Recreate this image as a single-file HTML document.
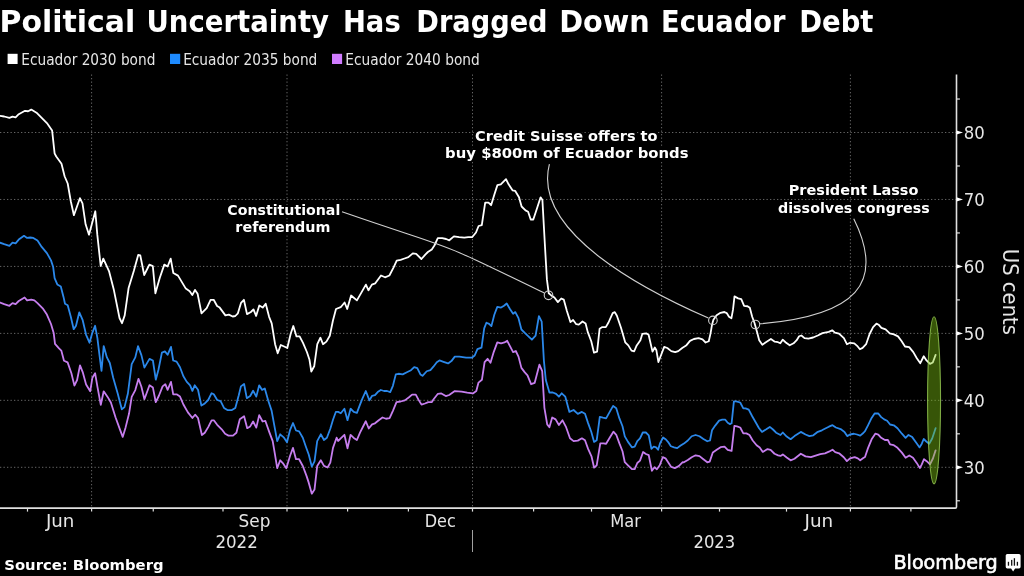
<!DOCTYPE html>
<html><head><meta charset="utf-8"><title>Political Uncertainty Has Dragged Down Ecuador Debt</title><style>
html,body{margin:0;padding:0;background:#000;}
body{width:1024px;height:576px;overflow:hidden;position:relative;}
svg{position:absolute;left:0;top:0;display:block;}
.g{stroke:#666;stroke-width:1;stroke-dasharray:1.3 2.2;}
.s{fill:none;stroke-width:1.8;stroke-linejoin:round;stroke-linecap:round;}
.c{fill:none;stroke:#d0d0d0;stroke-width:1.1;}
.ax{stroke:#e0e0e0;stroke-width:1.6;}
.tk{stroke:#e0e0e0;stroke-width:1.2;}
</style></head><body>
<svg width="1024" height="576" viewBox="0 0 1024 576" font-family="'DejaVu Sans', sans-serif">
<line x1="0" y1="467.30" x2="956.5" y2="467.30" class="g"/>
<line x1="0" y1="400.34" x2="956.5" y2="400.34" class="g"/>
<line x1="0" y1="333.38" x2="956.5" y2="333.38" class="g"/>
<line x1="0" y1="266.42" x2="956.5" y2="266.42" class="g"/>
<line x1="0" y1="199.46" x2="956.5" y2="199.46" class="g"/>
<line x1="0" y1="132.50" x2="956.5" y2="132.50" class="g"/>
<line x1="91.6" y1="74.5" x2="91.6" y2="508.1" class="g"/>
<line x1="287" y1="74.5" x2="287" y2="508.1" class="g"/>
<line x1="472.5" y1="74.5" x2="472.5" y2="508.1" class="g"/>
<line x1="661.6" y1="74.5" x2="661.6" y2="508.1" class="g"/>
<line x1="850.4" y1="74.5" x2="850.4" y2="508.1" class="g"/>
<polyline points="0,302.5 4.2,304.2 9.4,305.8 12.5,303.1 15.6,304.2 18.75,301 24.6,297.5 27.1,300.4 31.25,299.6 34.4,300.4 37.5,303.1 42.7,308.3 46.9,314.6 51,324 53.75,333.3 55,343.9 59,348.4 61.3,350.6 64,360.8 67.6,362.4 71.4,373.2 74.4,385.6 77.1,380 80,365.3 82.7,372.1 86.1,384.5 90.2,391.3 92.4,377.7 95.1,373.2 97.4,386.7 100.8,404.8 103.7,391.3 107.6,396.9 110.9,402.5 115.5,417.2 120,429.6 122.7,436.9 125.6,427.4 129,413.8 131.7,396.9 135.3,390.1 138.5,378.8 141.4,386.7 144.4,399.2 149.5,385.3 152.9,387.6 155.8,402.2 159,395.5 162.6,386.4 165.3,384.2 167.6,389.8 171,381.9 173.2,394.3 176.6,394.3 180,396.6 183.4,404.5 187.9,412.4 192.4,418 195.1,414.7 198,418 201.9,435 204.8,432.7 208.2,427.1 211.6,420.3 213.8,420.3 217.2,424.8 221.7,429.3 225.1,433.8 228.5,435.6 233,435.6 236.4,432.7 239.8,419.2 244.1,416.3 247.2,428.2 250.2,426.4 253.1,421.5 256.3,427.6 259.2,415.1 262.6,421.5 265.3,420.8 269.3,432.1 272.7,441.1 275,454.7 277.2,468.2 280.2,460.3 283.3,463.7 286.3,468.2 290.1,455.8 293,447.9 296,459.2 299.1,459.2 302.8,466 306.6,476.1 308.8,482.9 311.8,493.7 314.5,489.6 317.2,465.9 320.8,460.3 324,465.9 327.6,467.5 330.3,462.6 333,447.9 336.6,437.7 338.1,441 341.25,437.9 344.4,434.8 347.5,448.3 350.6,434.8 353.75,437.9 356.9,440 360,432.7 363.1,426.5 365.8,421.25 368.75,428.5 372.1,424.4 375,423.3 378.75,420.2 382.5,417.5 386,418.75 389.6,418.1 392.9,410.8 396.5,402.1 400.6,401.5 404.8,400.4 409,397.3 412.1,394.6 415.8,394.6 418.3,399.4 421.5,404.6 425,403.5 428.3,402.1 431.9,402.1 433.4,399.5 437.9,393.8 441.3,393.4 445.8,396.1 449.2,395 454.8,391.1 461.6,391.6 467.2,392.7 472.9,393.4 476.3,391.1 478.5,382.6 481.9,379.8 484.6,362.2 487.6,358.8 490.5,362.7 493.7,352.1 497.3,342.4 501.1,343.3 504.5,342.4 507.2,340.8 510.1,346.4 513.1,352.1 515.8,351 518.5,356.6 521.4,367.9 524.8,372.4 527.5,375.3 531.1,384.2 534.7,382.8 539.4,364.7 542.2,371.1 544.4,407.8 547.2,424.4 549.4,427.2 552.2,417.5 555.6,419.4 558.9,425 562.5,420.3 566.1,427.2 570,438.3 573.6,441.1 577.8,440.6 581.9,438.3 585,440.3 588.1,448.9 591.6,456.7 594.1,467.7 596.7,465.3 600.3,443.4 603.4,443.4 606.1,443.75 610,437.2 613.4,431.7 616.25,434.8 619.4,443.4 622.5,451.25 624.8,462.2 628,465.3 631.9,469.2 634.7,469.2 637.3,463 640,460.6 643.1,452 645.9,454 648.75,455.2 651.9,470.8 654.5,467.2 656.9,469.2 659.7,465.3 662.8,457.2 665.5,458.3 668.6,463 671.25,466.9 674.8,468.1 678.75,466.1 682.7,462.2 683.9,462.3 687.8,460 691.7,457.2 695.6,455.3 699.5,456.1 703.4,459.2 707.3,462.3 709.7,461.6 712.8,452.5 716.7,449.8 720.6,447.2 724.5,446.7 727.7,449.8 731.6,450.9 734.4,425.9 737,426.4 740.2,427.5 743.3,433.4 746.4,433.4 749.5,435 752.7,440.5 756.6,445.2 759.7,447.5 762.8,451.9 767.5,449.1 770.6,449.8 774.5,453.75 778.1,455.3 780.5,455.9 782.8,454.4 786.7,457.5 790.6,460.3 794.5,458.75 800.8,453.75 805.5,456.4 810.9,457.2 815.6,455.6 820.3,454.1 825,453.3 828.9,451.7 832.5,449.7 835.2,452.2 839.1,453.3 843.75,457.2 846.9,461.1 850,458.4 854.7,457.2 857.8,458.4 860.2,460.3 863.3,458 865,457 868,448.1 871.6,439.3 875.3,433.7 878.3,434.6 881.2,437.8 884.9,440 887.9,440 890.1,444.4 893.8,445.2 897.5,447.8 901.9,452.6 905.6,457.7 909.3,455.5 913,457.7 916.7,462.9 919.9,468.1 921.8,464.4 924,459.2 927,461.4 930,464.4 932.9,458.5 935.6,450.4" class="s" stroke="#c67eee"/>
<polyline points="0,242.7 4.2,244.2 9.4,245.8 12.5,242.7 15.6,243.3 18.75,239.6 24,235.8 27.1,237.9 30.2,237.5 33.3,237.9 37.5,240.6 41.7,246.9 46.9,253.1 51,260.4 53.1,266.7 54.6,278.1 57.3,284.4 60.8,286.5 63.5,296.9 65,303.75 67.7,305.2 70.8,316.7 73.7,329.2 76,325.8 79.3,312.3 82.7,320.2 86.1,334.8 89.5,342.7 92.4,332.6 95.1,325.8 97.4,338.2 99.2,352.9 101.5,370.9 103.7,346.1 106.9,357.4 109.8,363 113.2,377.7 117.7,393.5 121.8,409.3 124.5,407.1 127.9,393.5 131.7,364.2 135.3,357.4 138,346.1 141.4,355.1 144.4,367.6 149.5,358.9 152.9,360.5 155.8,379.7 158.5,369.5 161.9,352.6 164.9,351.4 167.6,354.8 171,346.9 173.2,360.5 176.6,361.6 180,367.2 183.4,376.3 186.8,381.9 190.1,385.3 192.4,390.9 194.7,385.3 198,389.8 201.4,405.6 204.8,403.4 208.2,400 211.6,393.2 213.8,394.3 217.2,400 220.6,401.1 224,407.9 227.4,410.1 231.9,410.1 235.3,407.9 238.7,395.5 240.9,386.4 244.1,384 246.8,398.2 250.2,396 253.1,390.8 256.3,396.6 259.2,385.3 262.1,389.9 264.8,388.5 268.2,400.5 271.6,410.6 274.3,425.3 277.2,441.1 280.2,434.3 284,437.7 287,442.2 290.1,429.8 293,423 296,430.5 299.1,431.4 302.8,437.7 305.9,446.7 308.8,454.7 311.8,466.6 314.5,461.4 317.2,441.1 320.8,434.3 324,440 326.9,437.7 330.3,428.7 333,419.7 335.9,411.8 338.1,411.9 340.8,413.3 344.4,408.75 347.5,420.2 350.6,408.75 353.75,411.9 356.9,412.9 360,404.6 362.5,398.3 365.8,391 369.4,400.4 372.1,395.8 375,395.2 377.7,392.1 380.8,390 384,391 387.1,391 390.2,392.1 392.9,385.8 395.8,374.4 398.5,373.75 402.7,374.4 406.9,372.3 411,370.2 414.2,367.1 417.3,368.1 420.4,374.4 422.5,375.8 426.7,371.25 430.4,370.2 433.4,366.7 436.8,362.2 439.5,360.4 443.5,361.8 448.1,363.4 451.4,361.1 454.8,356.6 459.3,356.6 466.1,357.7 471.8,357.7 474.7,355.5 477.4,349.1 481.5,347.6 484.2,328.4 486.4,322.7 489.1,323.9 491.4,326.1 494.3,314.8 497.3,306.9 501.1,307.6 504,305.8 506.7,303.5 510.1,309.2 513.1,313.7 515.3,312.1 518.5,318.2 521.4,329.5 524.8,332.9 527.1,335.1 531.9,339.7 535.6,335.6 538.9,316.1 541.7,321.7 543.9,360.6 545.8,380 549.4,392.5 552.8,392.5 556.1,393.9 558.9,396.7 561.7,393.3 565.3,396.7 569.4,411.9 573.6,410 577.8,413.9 581.9,411.9 585,413.75 588.1,423.1 591.25,431.7 594.1,441.9 596.7,440.3 599.8,416.9 603,417.7 606.1,418.4 610,411.4 613.1,405.9 616.25,408.3 619.4,418.4 622.5,426.25 624.8,436.4 628,441.9 631.9,447.3 634.7,446.6 637.3,441.1 640,438.4 642.8,432.5 645.9,432.5 648.75,435.3 651.4,448.9 653.75,446.6 656.1,447.3 658.1,449.7 660,443.4 663.1,437.5 665.9,439.5 668.6,442.7 670.9,446.25 674.1,447.3 677.2,448.1 680.3,445.8 683.9,443.6 687.8,440.5 691.7,436.25 695.6,435 699.5,436.25 703.4,438.9 707.3,441.25 710,440.5 712,430.3 715.2,425.6 719.1,420.6 722.2,419.7 725.3,419.7 727.7,422.8 730,424.1 731.6,423.3 733.9,401.4 736.25,401.4 740.2,402.5 743.3,408.4 745.6,408.4 748.75,409.7 752.2,416.25 755.8,422.5 758.9,428 762,431.9 765.9,429.5 769.8,426.9 773,429.5 776.1,432.7 778.1,433.75 780.5,435 782.8,432.5 786.7,436.6 790.6,439.2 794.5,436.1 800.8,431.9 805.5,434.5 809.4,436.1 813.3,435.3 817.2,432.2 821.9,430.3 825.8,428.3 828.9,426.7 832.5,425.2 835.9,427.5 840.6,429.1 844.5,431.9 847.2,436.1 850,434.5 853.9,433.75 857,434.5 860.2,435.6 863.3,433 865,431.2 868,425.3 871.6,417.9 874.6,413.5 878.3,413.5 881.2,417.1 884.2,419.4 887.1,420.8 890.1,424.5 893.8,425.3 897.5,428.2 901.9,433.7 905.6,437.8 908.5,434.9 912.2,437.1 915.9,442.2 919.6,447.4 921.8,443.7 923.7,439 926.3,441.5 929.2,443.7 932.2,438.5 935.6,428.2" class="s" stroke="#2b88ea"/>
<polyline points="0,115.8 4.2,116.5 9.4,117.9 12.5,116.7 15.6,117.3 18.75,114.2 25,110.8 28.1,111.25 31.25,109.6 36.5,112.7 41.7,117.9 46.9,123.1 52.1,130.4 54.6,153.3 56.25,156.5 61.5,163.75 64.6,176.25 67.7,183.5 70.8,201.25 73.9,215.2 79.9,198.2 82.5,203.4 85.6,224.3 89,234.7 95.3,211.25 97.3,234.7 100.7,266 103.3,258.6 109,271.1 113.75,289.4 119.5,318 122,323.2 124.7,315.4 128.6,288 133.8,271.1 138.2,255 140.3,255.5 144.2,275 149.4,264.6 152.8,266 155.4,293.3 159.8,277.7 164.3,264.6 167.6,266.5 170.7,258.6 173.3,273 178,275.6 185.8,288.6 189.7,291.2 192.3,295.1 195,289.9 197.6,293.8 201.5,313.3 206.7,308.1 210.6,299.8 213.7,299.8 217.1,306 219.7,307.6 225.4,315.4 228.8,314.6 232.7,316.5 235.3,316 237.9,313.3 241,302.9 243.9,299.8 247,314.1 250.9,312 253.5,309.4 256.1,316 259.3,305.5 262.7,307.6 265.7,303.8 269.1,316.8 271.7,323.3 275.1,344.2 277.7,353.3 280.8,345 284.7,346.8 287.3,348 290.7,333.75 293.3,326 296.5,336.4 299.6,336.4 303,342.9 306.9,352 309.5,359.8 311.3,371.5 314.2,366.3 317.3,344.2 320.4,337.7 323,344.2 326.4,341.6 329.8,335.8 332.9,320.7 336,309 340.7,307.2 344.6,302.5 347.2,309 351.1,295.5 356.9,300.4 361.5,292.4 365.9,284.6 368.5,290.3 371.9,284.6 375.3,283.3 381,275.5 385,277.3 389.4,275.5 393.5,267.7 396.7,260.6 400.6,259.8 404.5,258.5 408.4,257.2 412.8,253.3 416.2,253.9 421.4,259 425.3,254.6 427.9,252 431.8,249.4 434.4,245.5 437.8,238.2 442.2,238.2 446.1,239 449.3,240.3 453.9,236.4 459.1,237.2 464.3,237.7 468.2,237.2 472.1,237.2 476,232.5 478.6,226 481.8,225.2 485.2,202.6 488.5,202.6 491.1,205.2 494.3,194.7 497.4,185.1 500.8,184.3 506,179.1 508.6,184.3 512.5,190.3 515.1,190.8 519,197.3 521.6,206.5 525.5,210.4 528.1,211.7 530.7,219.5 533.3,219.5 537.2,207.8 540.6,197.3 542.4,199.9 545,246.8 546.9,279.4 548.75,293.3 551.25,295.4 554.4,297.5 557.9,302.1 561.25,298.5 563.75,299.6 566.9,311 570.4,322.1 573.1,320 576.25,324.2 578.75,324.6 582.5,321.5 585.6,323.5 587.7,331.9 591.25,341.25 594,352.7 597.1,351.7 599.6,328.75 602.3,327.1 605.8,327.1 608.5,322.5 612.7,313.1 614.8,312.1 616.9,315.8 621,327.7 625.2,342.3 628.3,345.4 631.5,350.6 634.2,351.25 636.7,345.4 640.4,340.2 642.3,333.9 646.25,333.4 648.6,334.7 652.5,351.6 654.8,347.5 656.4,350.3 658.4,362 661.1,355 664.2,346.9 667.3,348 671.25,351.1 675.2,352.2 678.3,351.1 682.2,348 686.1,345.6 690,340.9 693.9,339 698.6,338.1 702.5,339.4 705.6,342.5 708.75,341.25 710.6,333.1 711.9,325.3 713.4,319.8 716.6,315.2 720.5,312.8 724.4,312 726.7,313.1 729,316.7 731.4,318.3 733,309.7 734.5,296.4 738.1,298.4 741.25,299.1 744.1,305.8 747.5,306.25 749.8,307.8 752.2,316.7 754.5,323 756.9,331.6 759.2,340.2 762.3,344.8 765.5,342.5 770.9,339 774.8,341.7 778,342.2 780.3,343.3 782.7,339.7 785.8,342.5 789.7,345.3 793.6,343.3 796.7,340.2 799.1,336.25 801.4,335.5 804.5,338.1 808.4,338.6 813.1,337.5 817.8,335.5 822.5,333.1 828.75,331.9 832.2,330.3 834.9,332.6 839,333.6 843.9,338.2 846.9,344.2 850.1,342.8 854.3,343.3 857.1,345.8 859.9,349.3 862.6,347.9 866.1,344.2 869.6,334 873.1,327.1 876.5,323.6 878.6,324.7 881.4,327.8 885.6,329.4 889.7,333.3 893.9,334.4 898,336.4 901.5,341 905,346.5 909.2,347.2 913.3,352.1 916.8,358.3 920.3,363.2 923.75,356.25 926.5,360.4 930,363.9 932.8,362.5 935.6,354.9" class="s" stroke="#ffffff"/>
<path d="M342,211.7 C465.6,254.5 424.9,234.9 544.3,293" class="c"/>
<path d="M549.4,164.2 C531.5,232.9 648,291.7 708.4,318.1" class="c"/>
<path d="M853.75,218.75 C885.6,283 856.4,315.6 760,323.8" class="c"/>
<circle cx="548.5" cy="295.3" r="4.3" class="c"/>
<circle cx="712.9" cy="320.4" r="4.3" class="c"/>
<circle cx="755.4" cy="324.5" r="4.3" class="c"/>
<ellipse cx="934.05" cy="400.3" rx="6.5" ry="83.6" fill="rgba(128,198,19,0.43)" stroke="rgba(160,215,90,0.75)" stroke-width="1.1"/>
<path d="M0,508.1 H955.3 Q956.5,508.1 956.5,506.90000000000003 V74.5" class="ax" fill="none"/>
<line x1="27.5" y1="508.1" x2="27.5" y2="511.6" class="tk"/>
<line x1="91.6" y1="508.1" x2="91.6" y2="511.6" class="tk"/>
<line x1="153.25" y1="508.1" x2="153.25" y2="511.6" class="tk"/>
<line x1="223" y1="508.1" x2="223" y2="511.6" class="tk"/>
<line x1="287" y1="508.1" x2="287" y2="511.6" class="tk"/>
<line x1="347.6" y1="508.1" x2="347.6" y2="511.6" class="tk"/>
<line x1="408.4" y1="508.1" x2="408.4" y2="511.6" class="tk"/>
<line x1="472.5" y1="508.1" x2="472.5" y2="511.6" class="tk"/>
<line x1="533.6" y1="508.1" x2="533.6" y2="511.6" class="tk"/>
<line x1="591.5" y1="508.1" x2="591.5" y2="511.6" class="tk"/>
<line x1="661.6" y1="508.1" x2="661.6" y2="511.6" class="tk"/>
<line x1="719.5" y1="508.1" x2="719.5" y2="511.6" class="tk"/>
<line x1="786.5" y1="508.1" x2="786.5" y2="511.6" class="tk"/>
<line x1="850.4" y1="508.1" x2="850.4" y2="511.6" class="tk"/>
<line x1="910.9" y1="508.1" x2="910.9" y2="511.6" class="tk"/>
<line x1="956.5" y1="500.78" x2="959.9" y2="500.78" class="tk"/>
<path d="M956.5,465.20 L963.0,467.30 L956.5,469.40Z" fill="#fff"/>
<line x1="956.5" y1="433.82" x2="959.9" y2="433.82" class="tk"/>
<path d="M956.5,398.24 L963.0,400.34 L956.5,402.44Z" fill="#fff"/>
<line x1="956.5" y1="366.86" x2="959.9" y2="366.86" class="tk"/>
<path d="M956.5,331.28 L963.0,333.38 L956.5,335.48Z" fill="#fff"/>
<line x1="956.5" y1="299.90" x2="959.9" y2="299.90" class="tk"/>
<path d="M956.5,264.32 L963.0,266.42 L956.5,268.52Z" fill="#fff"/>
<line x1="956.5" y1="232.94" x2="959.9" y2="232.94" class="tk"/>
<path d="M956.5,197.36 L963.0,199.46 L956.5,201.56Z" fill="#fff"/>
<line x1="956.5" y1="165.98" x2="959.9" y2="165.98" class="tk"/>
<path d="M956.5,130.40 L963.0,132.50 L956.5,134.60Z" fill="#fff"/>
<line x1="956.5" y1="99.02" x2="959.9" y2="99.02" class="tk"/>
<line x1="472.5" y1="530" x2="472.5" y2="552" stroke="#a0a0a0" stroke-width="1"/>
<text x="-0.54" y="31.70" textLength="135.87" lengthAdjust="spacingAndGlyphs" style="font-family:'DejaVu Sans', sans-serif;font-weight:bold;font-size:30.6px" fill="#fff">Political</text>
<text x="146.50" y="31.70" textLength="182.53" lengthAdjust="spacingAndGlyphs" style="font-family:'DejaVu Sans', sans-serif;font-weight:bold;font-size:30.6px" fill="#fff">Uncertainty</text>
<text x="342.91" y="31.70" textLength="57.81" lengthAdjust="spacingAndGlyphs" style="font-family:'DejaVu Sans', sans-serif;font-weight:bold;font-size:30.6px" fill="#fff">Has</text>
<text x="416.33" y="31.70" textLength="131.26" lengthAdjust="spacingAndGlyphs" style="font-family:'DejaVu Sans', sans-serif;font-weight:bold;font-size:30.6px" fill="#fff">Dragged</text>
<text x="559.28" y="31.70" textLength="90.53" lengthAdjust="spacingAndGlyphs" style="font-family:'DejaVu Sans', sans-serif;font-weight:bold;font-size:30.6px" fill="#fff">Down</text>
<text x="661.02" y="31.70" textLength="124.50" lengthAdjust="spacingAndGlyphs" style="font-family:'DejaVu Sans', sans-serif;font-weight:bold;font-size:30.6px" fill="#fff">Ecuador</text>
<text x="799.31" y="31.70" textLength="74.20" lengthAdjust="spacingAndGlyphs" style="font-family:'DejaVu Sans', sans-serif;font-weight:bold;font-size:30.6px" fill="#fff">Debt</text>
<text x="21.28" y="64.60" textLength="134.13" lengthAdjust="spacingAndGlyphs" style="font-family:'DejaVu Sans Condensed', 'DejaVu Sans', sans-serif;font-weight:normal;font-size:15px" fill="#e6e6e6">Ecuador 2030 bond</text>
<text x="183.18" y="64.60" textLength="134.13" lengthAdjust="spacingAndGlyphs" style="font-family:'DejaVu Sans Condensed', 'DejaVu Sans', sans-serif;font-weight:normal;font-size:15px" fill="#e6e6e6">Ecuador 2035 bond</text>
<text x="345.38" y="64.60" textLength="134.34" lengthAdjust="spacingAndGlyphs" style="font-family:'DejaVu Sans Condensed', 'DejaVu Sans', sans-serif;font-weight:normal;font-size:15px" fill="#e6e6e6">Ecuador 2040 bond</text>
<text x="963.84" y="473.95" textLength="20.99" lengthAdjust="spacingAndGlyphs" style="font-family:'DejaVu Sans Condensed', 'DejaVu Sans', sans-serif;font-weight:normal;font-size:18.2px" fill="#e6e6e6">30</text>
<text x="963.84" y="406.99" textLength="20.99" lengthAdjust="spacingAndGlyphs" style="font-family:'DejaVu Sans Condensed', 'DejaVu Sans', sans-serif;font-weight:normal;font-size:18.2px" fill="#e6e6e6">40</text>
<text x="963.84" y="340.03" textLength="20.99" lengthAdjust="spacingAndGlyphs" style="font-family:'DejaVu Sans Condensed', 'DejaVu Sans', sans-serif;font-weight:normal;font-size:18.2px" fill="#e6e6e6">50</text>
<text x="963.84" y="273.07" textLength="20.99" lengthAdjust="spacingAndGlyphs" style="font-family:'DejaVu Sans Condensed', 'DejaVu Sans', sans-serif;font-weight:normal;font-size:18.2px" fill="#e6e6e6">60</text>
<text x="963.84" y="206.11" textLength="20.99" lengthAdjust="spacingAndGlyphs" style="font-family:'DejaVu Sans Condensed', 'DejaVu Sans', sans-serif;font-weight:normal;font-size:18.2px" fill="#e6e6e6">70</text>
<text x="963.84" y="139.15" textLength="20.99" lengthAdjust="spacingAndGlyphs" style="font-family:'DejaVu Sans Condensed', 'DejaVu Sans', sans-serif;font-weight:normal;font-size:18.2px" fill="#e6e6e6">80</text>
<text x="45.94" y="526.50" textLength="28.46" lengthAdjust="spacingAndGlyphs" style="font-family:'DejaVu Sans Condensed', 'DejaVu Sans', sans-serif;font-weight:normal;font-size:17.7px" fill="#e6e6e6">Jun</text>
<text x="238.54" y="526.50" textLength="31.84" lengthAdjust="spacingAndGlyphs" style="font-family:'DejaVu Sans Condensed', 'DejaVu Sans', sans-serif;font-weight:normal;font-size:17.7px" fill="#e6e6e6">Sep</text>
<text x="424.69" y="526.50" textLength="31.02" lengthAdjust="spacingAndGlyphs" style="font-family:'DejaVu Sans Condensed', 'DejaVu Sans', sans-serif;font-weight:normal;font-size:17.7px" fill="#e6e6e6">Dec</text>
<text x="610.23" y="526.50" textLength="30.70" lengthAdjust="spacingAndGlyphs" style="font-family:'DejaVu Sans Condensed', 'DejaVu Sans', sans-serif;font-weight:normal;font-size:17.7px" fill="#e6e6e6">Mar</text>
<text x="804.55" y="526.50" textLength="28.66" lengthAdjust="spacingAndGlyphs" style="font-family:'DejaVu Sans Condensed', 'DejaVu Sans', sans-serif;font-weight:normal;font-size:17.7px" fill="#e6e6e6">Jun</text>
<text x="215.40" y="547.60" textLength="42.36" lengthAdjust="spacingAndGlyphs" style="font-family:'DejaVu Sans Condensed', 'DejaVu Sans', sans-serif;font-weight:normal;font-size:18.5px" fill="#e6e6e6">2022</text>
<text x="693.51" y="547.60" textLength="41.72" lengthAdjust="spacingAndGlyphs" style="font-family:'DejaVu Sans Condensed', 'DejaVu Sans', sans-serif;font-weight:normal;font-size:18.5px" fill="#e6e6e6">2023</text>
<text x="475.06" y="140.60" textLength="182.50" lengthAdjust="spacingAndGlyphs" style="font-family:'DejaVu Sans', sans-serif;font-weight:bold;font-size:14px" fill="#fff" stroke="#000" stroke-width="4" stroke-linejoin="round" paint-order="stroke">Credit Suisse offers to</text>
<text x="445.14" y="158.40" textLength="243.36" lengthAdjust="spacingAndGlyphs" style="font-family:'DejaVu Sans', sans-serif;font-weight:bold;font-size:14px" fill="#fff" stroke="#000" stroke-width="4" stroke-linejoin="round" paint-order="stroke">buy $800m of Ecuador bonds</text>
<text x="227.29" y="214.50" textLength="112.99" lengthAdjust="spacingAndGlyphs" style="font-family:'DejaVu Sans', sans-serif;font-weight:bold;font-size:14px" fill="#fff" stroke="#000" stroke-width="4" stroke-linejoin="round" paint-order="stroke">Constitutional</text>
<text x="235.38" y="232.20" textLength="94.98" lengthAdjust="spacingAndGlyphs" style="font-family:'DejaVu Sans', sans-serif;font-weight:bold;font-size:14px" fill="#fff" stroke="#000" stroke-width="4" stroke-linejoin="round" paint-order="stroke">referendum</text>
<text x="788.77" y="195.10" textLength="129.65" lengthAdjust="spacingAndGlyphs" style="font-family:'DejaVu Sans', sans-serif;font-weight:bold;font-size:14px" fill="#fff" stroke="#000" stroke-width="4" stroke-linejoin="round" paint-order="stroke">President Lasso</text>
<text x="778.00" y="212.80" textLength="151.72" lengthAdjust="spacingAndGlyphs" style="font-family:'DejaVu Sans', sans-serif;font-weight:bold;font-size:14px" fill="#fff" stroke="#000" stroke-width="4" stroke-linejoin="round" paint-order="stroke">dissolves congress</text>
<text x="4.28" y="569.60" textLength="159.29" lengthAdjust="spacingAndGlyphs" style="font-family:'DejaVu Sans', sans-serif;font-weight:bold;font-size:14.5px" fill="#fff">Source: Bloomberg</text>
<text x="893.40" y="568.80" textLength="104.34" lengthAdjust="spacingAndGlyphs" style="font-family:'DejaVu Sans', sans-serif;font-weight:normal;font-size:20.2px" fill="#fff" stroke="#fff" stroke-width="0.65">Bloomberg</text>
<text transform="translate(1003.20,0) rotate(90)" x="248.80" y="0" textLength="86.21" lengthAdjust="spacingAndGlyphs" style="font-family:'DejaVu Sans Condensed', 'DejaVu Sans', sans-serif;font-weight:normal;font-size:21.7px" fill="#e6e6e6">US cents</text>
<rect x="7.6" y="53.8" width="10" height="10.2" fill="#fff"/>
<rect x="170" y="53.8" width="10.2" height="10.2" fill="#1e8bff"/>
<rect x="332" y="53.8" width="10.1" height="10.2" fill="#d07cff"/>
<g transform="translate(1005.4,553.6)">
<path d="M1.9,0.3 H13.6 A1.6,1.6 0 0 1 15.2,1.9 V13.2 A1.6,1.6 0 0 1 13.6,14.8 H9.7 L7.7,17.8 L5.7,14.8 H1.9 A1.6,1.6 0 0 1 0.3,13.2 V1.9 A1.6,1.6 0 0 1 1.9,0.3Z" fill="#fff"/>
<rect x="2.4" y="8.2" width="1.3" height="3.9" fill="#111"/>
<rect x="5.65" y="6.3" width="1.3" height="5.8" fill="#111"/>
<rect x="8.35" y="4.6" width="1.3" height="7.5" fill="#111"/>
<rect x="11.35" y="8.2" width="1.3" height="3.9" fill="#111"/>
</g>
</svg>
</body></html>
